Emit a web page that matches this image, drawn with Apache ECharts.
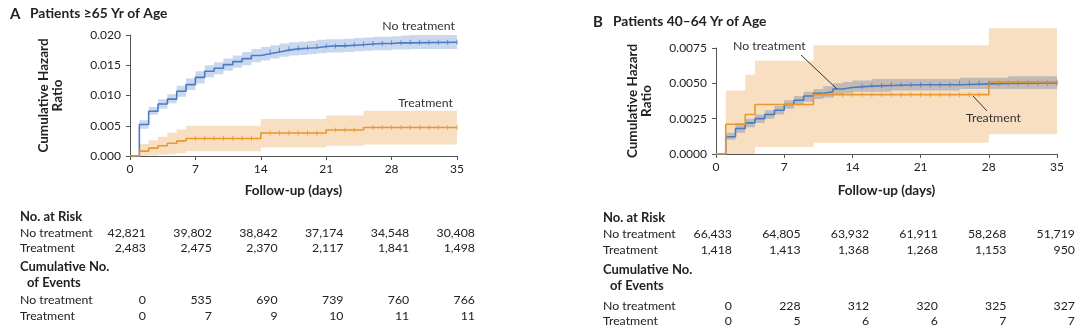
<!DOCTYPE html>
<html><head><meta charset="utf-8">
<script src="https://cdn.jsdelivr.net/npm/echarts@6/dist/echarts.min.js"></script>
<style>html,body{margin:0;padding:0;background:#fff}#c{width:1080px;height:332px}</style>
</head><body><div id="c"></div>
<script>
// ---------- DATA ----------
const xTicks = [0, 7, 14, 21, 28, 35];

// Panel A (>=65 yr) – No treatment
const daysA_NT = [0,1,2,3,4,5,6,7,8,9,10,11,12,13,14,15,16,17,18,19,20,21,22,23,24,25,26,27,28,29,30,35];
const hazA_NT  = [0,0.0052,0.0074,0.0086,0.0094,0.0107,0.0118,0.0130,0.0140,0.0145,0.0151,0.0156,0.0161,0.0166,0.0169,0.0172,0.0175,0.0177,0.0178,0.0179,0.0181,0.0182,0.0182,0.0183,0.0184,0.0185,0.0186,0.0186,0.0187,0.0187,0.0188,0.0188];
const lowA_NT  = [0,0.0045,0.0068,0.0078,0.0087,0.0098,0.0109,0.0120,0.0130,0.0135,0.0141,0.0146,0.0150,0.0155,0.0158,0.0161,0.0164,0.0166,0.0167,0.0168,0.0170,0.0171,0.0171,0.0172,0.0173,0.0174,0.0175,0.0175,0.0176,0.0176,0.0177,0.0177];
const upA_NT   = [0,0.0059,0.0081,0.0094,0.0102,0.0116,0.0128,0.0140,0.0150,0.0155,0.0161,0.0166,0.0172,0.0177,0.0180,0.0183,0.0186,0.0188,0.0189,0.0190,0.0192,0.0193,0.0193,0.0194,0.0195,0.0196,0.0197,0.0197,0.0198,0.0199,0.0200,0.0201];
// Panel A – Treatment
const daysA_T = [0,1,2,3,4,5,6,14,21,25,35];
const hazA_T  = [0,0.0008,0.0013,0.0017,0.0021,0.0025,0.0029,0.0038,0.0043,0.0047,0.0047];
const lowA_T  = [0,0,0.0001,0.0002,0.0003,0.0005,0.0008,0.0014,0.0017,0.0019,0.0019];
const upA_T   = [0,0.0020,0.0026,0.0032,0.0039,0.0044,0.0050,0.0061,0.0067,0.0075,0.0075];
// censoring marks (days)
const censA_NT = [15,16,17,18,19,20,21,22,23,24,25,26,27,28,29,30,31,32,33,34,35];
const censA_T  = [7,8,9,10,11,12,13,15,16,17,18,19,20,22,23,24,26,27,28,29,30,31,32,33,34,35];

// Panel B (40-64 yr) – No treatment
const daysB_NT = [0,1,2,3,4,5,6,7,8,9,10,11,12,13,14,16,18,21,25,30,35];
const hazB_NT  = [0,0.00122,0.0018,0.0022,0.0025,0.0028,0.0031,0.0035,0.0038,0.0041,0.0043,0.0044,0.0046,0.0047,0.0048,0.00485,0.0049,0.0049,0.0050,0.00503,0.00503];
const lowB_NT  = [0,0.0010,0.0015,0.0019,0.0022,0.0025,0.0028,0.0032,0.0035,0.0037,0.0039,0.0040,0.0042,0.0043,0.0044,0.0044,0.0045,0.0045,0.0046,0.0046,0.0046];
const upB_NT   = [0,0.0015,0.0022,0.0025,0.0028,0.0031,0.0034,0.0038,0.0041,0.0044,0.0046,0.0048,0.0050,0.0051,0.0052,0.0053,0.0053,0.0053,0.0054,0.0055,0.0055];
// Panel B – Treatment
const daysB_T = [0,1,3,4,10,28,35];
const hazB_T  = [0,0.0021,0.0028,0.0035,0.0042,0.0051,0.0051];
const lowB_T  = [0,0,0,0.0005,0.0008,0.0014,0.0014];
const upB_T   = [0,0.0045,0.0056,0.0066,0.0077,0.0089,0.0089];
const censB_NT = [15,16,17,18,19,20,21,22,23,24,25,26,27,28,29,30,31,32,33,34,35];
const censB_T  = [11,12,13,14,15,16,17,18,19,20,21,22,23,24,25,26,27,29,30,31,32,33,34,35];

// Risk tables
const riskA_NT = [42821,39802,38842,37174,34548,30408];
const riskA_T  = [2483,2475,2370,2117,1841,1498];
const evA_NT   = [0,535,690,739,760,766];
const evA_T    = [0,7,9,10,11,11];
const riskB_NT = [66433,64805,63932,61911,58268,51719];
const riskB_T  = [1418,1413,1368,1268,1153,950];
const evB_NT   = [0,228,312,320,325,327];
const evB_T    = [0,5,6,6,7,7];

// ---------- STYLE ----------
const FONT = 'Lato';
const BLUE = '#4a7cc4', BLUE_BAND = '#c9d8ef';
const ORANGE = '#e8982f', ORANGE_BAND = '#f8dfc2';
const GRAY_BAND = 'rgba(160,163,172,0.62)';
const AX = '#555', TXT = '#222';

function pairs(d, v) { return d.map((x, i) => [x, v[i]]); }
function stepAt(days, vals, t) { let r = vals[0]; for (let i = 0; i < days.length; i++) if (days[i] <= t) r = vals[i]; return r; }

// confidence band as one stepped polygon, positioned with api.coord
function bandSeries(idx, days, lo, hi, color, z) {
  const rows = days.map((d, i) => [d, lo[i], hi[i]]);
  return {
    type: 'custom', xAxisIndex: idx, yAxisIndex: idx, silent: true, z: z, clip: false,
    data: rows,
    renderItem: function (params, api) {
      if (params.dataIndex !== 0) return null;
      const top = [], bot = [];
      for (let i = 0; i < rows.length - 1; i++) {
        top.push(api.coord([rows[i][0], rows[i][2]]), api.coord([rows[i + 1][0], rows[i][2]]));
        bot.push(api.coord([rows[i][0], rows[i][1]]), api.coord([rows[i + 1][0], rows[i][1]]));
      }
      const pts = top.concat(bot.reverse());
      return { type: 'polygon', shape: { points: pts }, style: { fill: color } };
    }
  };
}
function lineSeries(idx, days, vals, color, z) {
  return { type: 'line', xAxisIndex: idx, yAxisIndex: idx, step: 'end', data: pairs(days, vals),
    showSymbol: false, lineStyle: { color: color, width: 1.6 }, z: z };
}
function censSeries(idx, cens, days, vals, color, z) {
  return { type: 'scatter', xAxisIndex: idx, yAxisIndex: idx, symbol: 'rect', symbolSize: [1, 5],
    itemStyle: { color: color }, data: cens.map(t => [t, stepAt(days, vals, t)]), z: z };
}

function xAxis(idx, gap) {
  return { gridIndex: idx, type: 'value', min: 0, max: 35, interval: 7,
    axisLine: { lineStyle: { color: AX, width: 1 } },
    axisTick: { show: true, length: 4, lineStyle: { color: AX } },
    splitLine: { show: false },
    axisLabel: { color: TXT, fontFamily: FONT, fontSize: 12, margin: 7 },
    name: 'Follow-up (days)', nameLocation: 'middle', nameGap: gap,
    nameTextStyle: { color: TXT, fontFamily: FONT, fontSize: 13.5, fontWeight: 'bold' } };
}
function yAxis(idx, max, interval, dec, gap) {
  return { gridIndex: idx, type: 'value', min: 0, max: max, interval: interval,
    axisLine: { show: true, lineStyle: { color: AX, width: 1 } },
    axisTick: { show: true, length: 4, lineStyle: { color: AX } },
    splitLine: { show: false },
    axisLabel: { color: TXT, fontFamily: FONT, fontSize: 12, margin: 9, formatter: v => v.toFixed(dec) },
    name: 'Cumulative Hazard\nRatio', nameLocation: 'middle', nameRotate: 90, nameGap: gap,
    nameTextStyle: { color: TXT, fontFamily: FONT, fontSize: 13.5, fontWeight: 'bold', lineHeight: 13.5, align: 'center' } };
}

// ---------- graphics: titles, annotations, tables ----------
const g = [];
function txt(x, y, s, opt) {
  g.push({ type: 'text', x: x, y: y, silent: true, z: 100,
    style: Object.assign({ text: s, fill: TXT, font: '12.3px ' + FONT, textAlign: 'left', textVerticalAlign: 'middle' }, opt || {}) });
}
function line(x1, y1, x2, y2) {
  g.push({ type: 'line', silent: true, z: 100, shape: { x1, y1, x2, y2 }, style: { stroke: '#333', lineWidth: 1 } });
}
// titles
txt(10, 14, 'A', { font: 'bold 15px ' + FONT });
txt(30, 14, 'Patients \u226565 Yr of Age', { font: 'bold 13.8px ' + FONT });
txt(593, 22, 'B', { font: 'bold 15px ' + FONT });
txt(613, 22, 'Patients 40\u201364 Yr of Age', { font: 'bold 13.8px ' + FONT });
// annotations
txt(455, 26, 'No treatment', { textAlign: 'right', fill: '#333', font: '12.3px ' + FONT });
txt(453, 103, 'Treatment', { textAlign: 'right', fill: '#333', font: '12.3px ' + FONT });
txt(733, 46, 'No treatment', { fill: '#333', font: '12.3px ' + FONT });
line(801, 55, 837, 89);
txt(966, 118, 'Treatment', { fill: '#333', font: '12.3px ' + FONT });
line(973, 96, 987, 111);

function table(x0, rowY, colX0, colStep, rNT, rT, eNT, eT) {
  const fmt = n => n.toLocaleString('en-US');
  const hb = 'bold 13px ' + FONT;
  txt(x0, rowY[0], 'No. at Risk', { font: hb });
  txt(x0, rowY[1], 'No treatment');
  txt(x0, rowY[2], 'Treatment');
  txt(x0, rowY[3], 'Cumulative No.', { font: hb });
  txt(x0 + 7, rowY[4], 'of Events', { font: hb });
  txt(x0, rowY[5], 'No treatment');
  txt(x0, rowY[6], 'Treatment');
  [[rNT, 1], [rT, 2], [eNT, 5], [eT, 6]].forEach(([arr, r]) => {
    arr.forEach((v, i) => txt(colX0 + colStep * i, rowY[r], fmt(v), { textAlign: 'right' }));
  });
}
table(20, [217, 233, 248.5, 266.5, 282.5, 300.5, 316.5], 146, 65.8, riskA_NT, riskA_T, evA_NT, evA_T);
table(603, [218, 234, 250.5, 270, 286, 306.5, 321.5], 732, 68.6, riskB_NT, riskB_T, evB_NT, evB_T);

const option = {
  backgroundColor: '#fff',
  animation: false,
  grid: [
    { left: 130, top: 35, width: 327, height: 121 },
    { left: 716, top: 48, width: 341, height: 106 }
  ],
  xAxis: [xAxis(0, 28), xAxis(1, 30)],
  yAxis: [yAxis(0, 0.02, 0.005, 3, 66), yAxis(1, 0.0075, 0.0025, 4, 63)],
  series: [
    bandSeries(0, daysA_T, lowA_T, upA_T, ORANGE_BAND, 1),
    bandSeries(0, daysA_NT, lowA_NT, upA_NT, BLUE_BAND, 1),
    lineSeries(0, daysA_NT, hazA_NT, BLUE, 3),
    lineSeries(0, daysA_T, hazA_T, ORANGE, 4),
    censSeries(0, censA_NT, daysA_NT, hazA_NT, BLUE, 5),
    censSeries(0, censA_T, daysA_T, hazA_T, ORANGE, 5),
    bandSeries(1, daysB_T, lowB_T, upB_T, ORANGE_BAND, 1),
    bandSeries(1, daysB_NT, lowB_NT, upB_NT, GRAY_BAND, 1),
    lineSeries(1, daysB_NT, hazB_NT, BLUE, 3),
    lineSeries(1, daysB_T, hazB_T, ORANGE, 4),
    censSeries(1, censB_NT, daysB_NT, hazB_NT, BLUE, 5),
    censSeries(1, censB_T, daysB_T, hazB_T, ORANGE, 5)
  ],
  graphic: g
};
const chart = echarts.init(document.getElementById('c'), null, { renderer: 'canvas' });
chart.setOption(option);
</script></body></html>
